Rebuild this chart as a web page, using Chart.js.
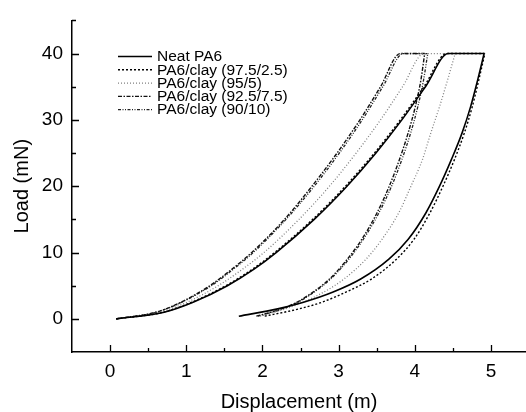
<!DOCTYPE html>
<html>
<head>
<meta charset="utf-8">
<script src="https://cdn.jsdelivr.net/npm/chart.js@4.4.1/dist/chart.umd.min.js"></script>
<style>
html,body{margin:0;padding:0;background:#fff;}
#wrap{width:526px;height:412px;}
</style>
</head>
<body>
<div id="wrap"><canvas id="mycanvas" width="526" height="412"></canvas></div>
<script>
// legend names
var seriesNames=["Neat PA6","PA6/clay (97.5/2.5)","PA6/clay (95/5)","PA6/clay (92.5/7.5)","PA6/clay (90/10)"];

// loading branches (load in mN, displacement read at each load level)
var loadY=[0,1,2.5,5,7.5,10,15,20,25,30,35,40];
var neatLoadX=[0.08,0.71,1.09,1.54,1.89,2.18,2.68,3.11,3.49,3.83,4.14,4.44];
var clay975LoadX=[0.08,0.70,1.07,1.52,1.87,2.16,2.66,3.09,3.47,3.81,4.12,4.42];
var clay95LoadX=[0.08,0.65,1.01,1.42,1.74,2.02,2.48,2.88,3.23,3.55,3.84,4.12];
var clay925LoadX=[0.08,0.60,0.93,1.31,1.60,1.86,2.29,2.65,2.98,3.28,3.55,3.81];
var clay90LoadX=[0.08,0.61,0.94,1.33,1.62,1.88,2.31,2.68,3.01,3.31,3.58,3.85];

// unloading branches (first value = end of the hold at 40 mN)
var unloadY=[40,36,32,28,24,20,16,12,9,6,4,2.5,1.5,0.4];
var neatUnloadX=[4.91,4.825,4.733,4.62,4.48,4.325,4.147,3.914,3.66,3.29,2.92,2.54,2.20,1.69];
var clay975UnloadX=[4.92,4.84,4.755,4.65,4.52,4.37,4.20,3.99,3.76,3.43,3.09,2.78,2.48,2.03];
var clay95UnloadX=[4.53,4.43,4.325,4.21,4.10,3.95,3.79,3.57,3.36,3.07,2.80,2.53,2.30,1.97];
var clay925UnloadX=[4.13,4.08,4.007,3.912,3.798,3.665,3.505,3.305,3.115,2.88,2.66,2.45,2.25,1.92];
var clay90UnloadX=[4.17,4.115,4.04,3.945,3.83,3.695,3.53,3.325,3.135,2.895,2.675,2.465,2.265,1.94];

// axis ticks
var xTicks=[0,1,2,3,4,5];
var xMinor=[0.5,1.5,2.5,3.5,4.5];
var yTicks=[0,10,20,30,40];
var yMinor=[5,15,25,35,45];

var loadXs=[neatLoadX,clay975LoadX,clay95LoadX,clay925LoadX,clay90LoadX];
var unloadXs=[neatUnloadX,clay975UnloadX,clay95UnloadX,clay925UnloadX,clay90UnloadX];
var styles=[
	{color:"#000",width:1.6,dash:[]},
	{color:"#000",width:1.4,dash:[2,2]},
	{color:"#808080",width:1.3,dash:[1,2]},
	{color:"#111",width:1.4,dash:[4,1.5,1.5,1.5]},
	{color:"#222",width:1.3,dash:[3,1.5,1,1.5,1,1.5]}
];

var FONT="'Liberation Sans', Arial, sans-serif";

function mkSet(label,pts,st,inLegend){
	return {
		label:label,
		data:pts,
		borderColor:st.color,
		borderWidth:st.width,
		borderDash:st.dash,
		fill:false,
		pointRadius:0,
		cubicInterpolationMode:'monotone',
		inLegend:inLegend
	};
}

var datasets=[];
for (var i=0;i<seriesNames.length;i++){
	var lp=[];
	for (var j=0;j<loadY.length;j++) lp.push({x:loadXs[i][j],y:loadY[j]});
	lp.push({x:unloadXs[i][0],y:unloadY[0]}); // hold at max load
	var up=[];
	for (var k=unloadY.length-1;k>=0;k--) up.push({x:unloadXs[i][k],y:unloadY[k]});
	datasets.push(mkSet(seriesNames[i],lp,styles[i],true));
	datasets.push(mkSet(seriesNames[i]+" unload",up,styles[i],false));
}

// inward major/minor tick marks
var tickMarks={
	id:'tickMarks',
	afterDraw:function(chart){
		var c=chart.ctx, a=chart.chartArea, sx=chart.scales.x, sy=chart.scales.y;
		c.save();
		c.strokeStyle="#000";
		c.lineWidth=1.3;
		c.setLineDash([]);
		c.beginPath();
		xTicks.forEach(function(v){var p=Math.round(sx.getPixelForValue(v))+0.5;c.moveTo(p,a.bottom);c.lineTo(p,a.bottom-7);});
		xMinor.forEach(function(v){var p=Math.round(sx.getPixelForValue(v))+0.5;c.moveTo(p,a.bottom);c.lineTo(p,a.bottom-4);});
		yTicks.forEach(function(v){var p=Math.round(sy.getPixelForValue(v))+0.5;c.moveTo(a.left,p);c.lineTo(a.left+7,p);});
		yMinor.forEach(function(v){var p=Math.round(sy.getPixelForValue(v))+0.5;c.moveTo(a.left,p);c.lineTo(a.left+4,p);});
		c.stroke();
		c.restore();
	}
};

// legend drawn inside the plot, top left
var boxLegend={
	id:'boxLegend',
	afterDraw:function(chart){
		var c=chart.ctx;
		var row=0;
		c.save();
		c.font="15.5px "+FONT;
		c.textBaseline="middle";
		c.textAlign="left";
		chart.data.datasets.forEach(function(ds){
			if (!ds.inLegend) return;
			var y=56+row*13.3;
			c.strokeStyle=ds.borderColor;
			c.lineWidth=ds.borderWidth;
			c.setLineDash(ds.borderDash);
			c.beginPath();
			c.moveTo(118,y+0.5);
			c.lineTo(152,y+0.5);
			c.stroke();
			c.setLineDash([]);
			c.fillStyle="#000";
			c.fillText(ds.label,157,y+1);
			row++;
		});
		c.restore();
	}
};

var ctx=document.getElementById("mycanvas");
var chart=new Chart(ctx,{
	type:'line',
	data:{datasets:datasets},
	plugins:[tickMarks,boxLegend],
	options:{
		responsive:false,
		devicePixelRatio:1,
		animation:false,
		layout:{padding:{top:14,left:0,right:0,bottom:0}},
		plugins:{legend:{display:false},tooltip:{enabled:false}},
		scales:{
			x:{
				type:'linear',
				min:-0.5,
				max:5.46,
				afterBuildTicks:function(s){s.ticks=xTicks.map(function(v){return {value:v};});},
				afterFit:function(s){s.height=60;},
				grid:{display:false,drawTicks:false},
				border:{display:true,color:"#000",width:1.5},
				ticks:{color:"#000",padding:8,font:{family:FONT,size:19}},
				title:{display:true,text:"Displacement (m)",color:"#000",font:{family:FONT,size:20,lineHeight:1},padding:{top:0,bottom:0}}
			},
			y:{
				type:'linear',
				min:-5,
				max:45,
				afterBuildTicks:function(s){s.ticks=yTicks.map(function(v){return {value:v};});},
				afterFit:function(s){s.width=72;},
				grid:{display:false,drawTicks:false},
				border:{display:true,color:"#000",width:1.5},
				ticks:{color:"#000",padding:9,font:{family:FONT,size:19}},
				title:{display:true,text:"Load (mN)",color:"#000",font:{family:FONT,size:20,lineHeight:1},padding:{top:12,bottom:0}}
			}
		}
	}
});
</script>
</body>
</html>
